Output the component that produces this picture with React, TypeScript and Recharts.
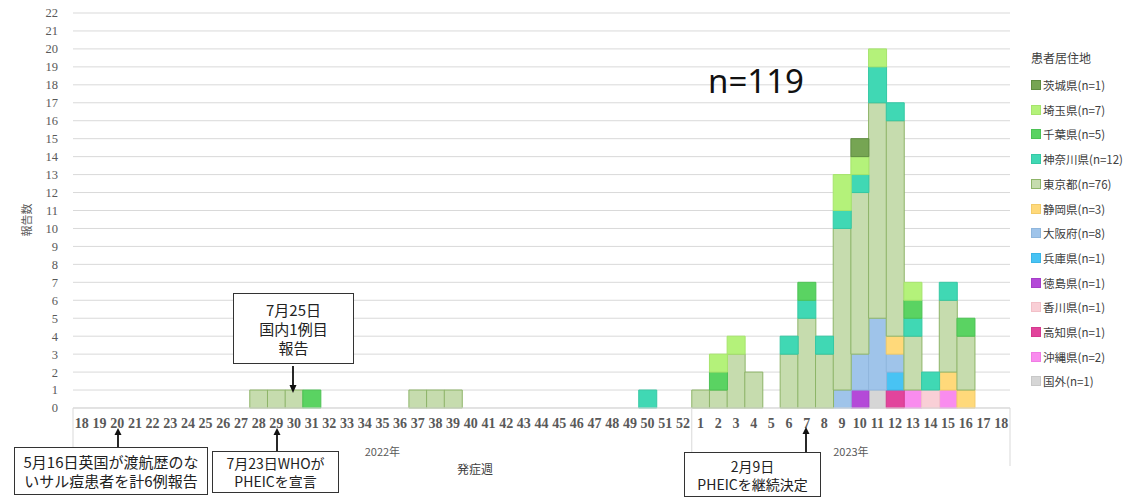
import { Bar, BarChart, CartesianGrid, XAxis, YAxis } from 'recharts';

// 発症週 (2022: week 18–52, 2023: week 1–18)
const weeks2022 = [
  '18', '19', '20', '21', '22', '23', '24', '25', '26', '27', '28', '29', '30', '31', '32', '33', '34', '35',
  '36', '37', '38', '39', '40', '41', '42', '43', '44', '45', '46', '47', '48', '49', '50', '51', '52',
];
const weeks2023 = ['1', '2', '3', '4', '5', '6', '7', '8', '9', '10', '11', '12', '13', '14', '15', '16', '17', '18'];

const yTicks = [0, 1, 2, 3, 4, 5, 6, 7, 8, 9, 10, 11, 12, 13, 14, 15, 16, 17, 18, 19, 20, 21, 22];

// 2022 counts, weeks 18..52
const tokyo2022 = [0, 0, 0, 0, 0, 0, 0, 0, 0, 0, 1, 1, 1, 0, 0, 0, 0, 0, 0, 1, 1, 1, 0, 0, 0, 0, 0, 0, 0, 0, 0, 0, 0, 0, 0];
const chiba2022 = [0, 0, 0, 0, 0, 0, 0, 0, 0, 0, 0, 0, 0, 1, 0, 0, 0, 0, 0, 0, 0, 0, 0, 0, 0, 0, 0, 0, 0, 0, 0, 0, 0, 0, 0];
const kanagawa2022 = [0, 0, 0, 0, 0, 0, 0, 0, 0, 0, 0, 0, 0, 0, 0, 0, 0, 0, 0, 0, 0, 0, 0, 0, 0, 0, 0, 0, 0, 0, 0, 0, 1, 0, 0];
const none2022 = [0, 0, 0, 0, 0, 0, 0, 0, 0, 0, 0, 0, 0, 0, 0, 0, 0, 0, 0, 0, 0, 0, 0, 0, 0, 0, 0, 0, 0, 0, 0, 0, 0, 0, 0];

// 2023 counts, weeks 1..18
const ibaraki2023 = [0, 0, 0, 0, 0, 0, 0, 0, 0, 1, 0, 0, 0, 0, 0, 0, 0, 0];
const saitama2023 = [0, 1, 1, 0, 0, 0, 0, 0, 2, 1, 1, 0, 1, 0, 0, 0, 0, 0];
const chiba2023 = [0, 1, 0, 0, 0, 0, 1, 0, 0, 0, 0, 0, 1, 0, 0, 1, 0, 0];
const kanagawa2023 = [0, 0, 0, 0, 0, 1, 1, 1, 1, 1, 2, 1, 1, 1, 1, 0, 0, 0];
const tokyo2023 = [1, 1, 3, 2, 0, 3, 5, 3, 9, 9, 12, 12, 3, 0, 4, 3, 0, 0];
const shizuoka2023 = [0, 0, 0, 0, 0, 0, 0, 0, 0, 0, 0, 1, 0, 0, 1, 1, 0, 0];
const osaka2023 = [0, 0, 0, 0, 0, 0, 0, 0, 1, 2, 4, 1, 0, 0, 0, 0, 0, 0];
const hyogo2023 = [0, 0, 0, 0, 0, 0, 0, 0, 0, 0, 0, 1, 0, 0, 0, 0, 0, 0];
const tokushima2023 = [0, 0, 0, 0, 0, 0, 0, 0, 0, 1, 0, 0, 0, 0, 0, 0, 0, 0];
const kagawa2023 = [0, 0, 0, 0, 0, 0, 0, 0, 0, 0, 0, 0, 0, 1, 0, 0, 0, 0];
const kochi2023 = [0, 0, 0, 0, 0, 0, 0, 0, 0, 0, 0, 1, 0, 0, 0, 0, 0, 0];
const okinawa2023 = [0, 0, 0, 0, 0, 0, 0, 0, 0, 0, 0, 0, 1, 0, 1, 0, 0, 0];
const abroad2023 = [0, 0, 0, 0, 0, 0, 0, 0, 0, 0, 1, 0, 0, 0, 0, 0, 0, 0];

// stacking order, bottom first
const series = [
  { key: 'abroad', name: '国外(n=1)', color: '#d6d6d6', stroke: '#c8c8c8', v2022: none2022, v2023: abroad2023 },
  { key: 'okinawa', name: '沖縄県(n=2)', color: '#f98cee', stroke: '#f07ce4', v2022: none2022, v2023: okinawa2023 },
  { key: 'kochi', name: '高知県(n=1)', color: '#e2449c', stroke: '#d43a8e', v2022: none2022, v2023: kochi2023 },
  { key: 'kagawa', name: '香川県(n=1)', color: '#f9cfd6', stroke: '#f2c0c8', v2022: none2022, v2023: kagawa2023 },
  { key: 'tokushima', name: '徳島県(n=1)', color: '#b449d8', stroke: '#a53ec8', v2022: none2022, v2023: tokushima2023 },
  { key: 'hyogo', name: '兵庫県(n=1)', color: '#48c3f4', stroke: '#3bb5e6', v2022: none2022, v2023: hyogo2023 },
  { key: 'osaka', name: '大阪府(n=8)', color: '#9fc4ea', stroke: '#8fb6dc', v2022: none2022, v2023: osaka2023 },
  { key: 'shizuoka', name: '静岡県(n=3)', color: '#ffd97a', stroke: '#f2cb6a', v2022: none2022, v2023: shizuoka2023 },
  { key: 'tokyo', name: '東京都(n=76)', color: '#c6dcae', stroke: '#8db468', v2022: tokyo2022, v2023: tokyo2023 },
  { key: 'kanagawa', name: '神奈川県(n=12)', color: '#40d8b4', stroke: '#35c8a4', v2022: kanagawa2022, v2023: kanagawa2023 },
  { key: 'chiba', name: '千葉県(n=5)', color: '#5ad362', stroke: '#4cc254', v2022: chiba2022, v2023: chiba2023 },
  { key: 'saitama', name: '埼玉県(n=7)', color: '#b4f27a', stroke: '#a6e46c', v2022: none2022, v2023: saitama2023 },
  { key: 'ibaraki', name: '茨城県(n=1)', color: '#76a553', stroke: '#5f8c40', v2022: none2022, v2023: ibaraki2023 },
];

const rowKeys = [...weeks2022.map((w) => `2022-${w}`), ...weeks2023.map((w) => `2023-${w}`)];

const rows = rowKeys.map((k, i) => {
  const row: Record<string, string | number> = { week: k };
  series.forEach((s) => {
    row[s.key] = i < weeks2022.length ? s.v2022[i] : s.v2023[i - weeks2022.length];
  });
  return row;
});

const W = 1144;
const H = 497;
const plotLeft = 73;
const plotRight = 1010;
const axisY = 408;
const band = (plotRight - plotLeft) / rowKeys.length;
const gray = '#595959';
const jp = '"Noto Sans CJK JP", "Noto Sans", sans-serif';

function WeekTick(props: any) {
  const { x, y, payload } = props;
  const i = rowKeys.indexOf(payload.value);
  const label = String(payload.value).split('-')[1];
  return (
    <g>
      <text
        x={x}
        y={y}
        dy="0.71em"
        textAnchor="middle"
        fill={gray}
        fontSize={14}
        fontFamily='"Liberation Serif", serif'
        fontWeight={600}
      >
        {label}
      </text>
      {(i === 0 || i === weeks2022.length) && (
        <line x1={x - band / 2} x2={x - band / 2} y1={axisY} y2={466} stroke="#d9d9d9" />
      )}
      {i === rowKeys.length - 1 && (
        <line x1={x + band / 2} x2={x + band / 2} y1={axisY} y2={466} stroke="#d9d9d9" />
      )}
      {i === 17 && (
        <text x={x} y={456} textAnchor="middle" fill={gray} fontSize={11} fontFamily={jp}>
          2022年
        </text>
      )}
      {i === 44 && (
        <text x={x - band / 2} y={456} textAnchor="middle" fill={gray} fontSize={11} fontFamily={jp}>
          2023年
        </text>
      )}
    </g>
  );
}

const boxStyle = (left: number, top: number, width: number, height: number, fontSize: number) => ({
  position: 'absolute' as const,
  left,
  top,
  width,
  height,
  boxSizing: 'border-box' as const,
  border: '1.5px solid #333',
  background: '#fff',
  fontFamily: jp,
  fontSize,
  lineHeight: `${fontSize + 4}px`,
  color: '#222',
  textAlign: 'center' as const,
  display: 'flex',
  flexDirection: 'column' as const,
  justifyContent: 'center',
});

function UpArrow({ x, y1, y2 }: { x: number; y1: number; y2: number }) {
  return (
    <g>
      <line x1={x} x2={x} y1={y1} y2={y2 + 6} stroke="#111" strokeWidth={1.8} />
      <polygon points={`${x - 3.5},${y2 + 7} ${x + 3.5},${y2 + 7} ${x},${y2}`} fill="#111" />
    </g>
  );
}

export default function App() {
  const legendItems = [...series].reverse();
  return (
    <div style={{ position: 'absolute', left: 0, top: 0, width: W, height: H, background: '#fff' }}>
      <BarChart
        width={W}
        height={H}
        data={rows}
        margin={{ top: 13, right: W - plotRight, bottom: H - axisY - 30, left: plotLeft - 60 }}
        barCategoryGap={0}
        barGap={0}
      >
        <CartesianGrid vertical={false} stroke="#d9d9d9" />
        <XAxis
          dataKey="week"
          interval={0}
          tick={<WeekTick />}
          tickLine={false}
          tickMargin={4}
          axisLine={{ stroke: '#d9d9d9' }}
          height={30}
        />
        <YAxis
          width={60}
          domain={[0, 22]}
          ticks={yTicks}
          interval={0}
          axisLine={false}
          tickLine={false}
          tickMargin={9}
          tick={{ fill: gray, fontSize: 12.5, fontFamily: '"Liberation Serif", serif' }}
        />
        {series.map((s) => (
          <Bar
            key={s.key}
            dataKey={s.key}
            name={s.name}
            stackId="a"
            fill={s.color}
            stroke={s.stroke}
            strokeWidth={1}
            isAnimationActive={false}
          />
        ))}
      </BarChart>

      <svg width={W} height={H} style={{ position: 'absolute', left: 0, top: 0, pointerEvents: 'none' }}>
        <text
          x={28}
          y={220}
          transform="rotate(-90 28 220)"
          textAnchor="middle"
          dominantBaseline="middle"
          fill={gray}
          fontSize={11}
          fontFamily={jp}
        >
          報告数
        </text>
        <text x={475} y={474} textAnchor="middle" fill="#404040" fontSize={12} fontFamily={jp}>
          発症週
        </text>
        <text x={708} y={93} fill="#111" fontSize={33} fontFamily='"Noto Sans", sans-serif'>
          n=119
        </text>
        {/* 7月25日 arrow */}
        <line x1={293} x2={293} y1={366} y2={386} stroke="#111" strokeWidth={1.8} />
        <polygon points="289.5,385 296.5,385 293,393" fill="#111" />
        <UpArrow x={118} y1={447} y2={428} />
        <UpArrow x={277} y1={451} y2={428} />
        <UpArrow x={806} y1={452} y2={427} />
      </svg>

      <div style={boxStyle(233, 293, 121, 71, 15)}>
        <div>7月25日</div>
        <div>国内1例目</div>
        <div>報告</div>
      </div>
      <div style={boxStyle(14, 447, 194, 48, 15)}>
        <div>5月16日英国が渡航歴のな</div>
        <div>いサル痘患者を計6例報告</div>
      </div>
      <div style={boxStyle(212, 451, 127, 42, 14)}>
        <div>7月23日WHOが</div>
        <div>PHEICを宣言</div>
      </div>
      <div style={boxStyle(684, 452, 137, 45, 14)}>
        <div>2月9日</div>
        <div>PHEICを継続決定</div>
      </div>

      <div style={{ position: 'absolute', left: 1031, top: 48, fontFamily: jp, color: '#404040' }}>
        <div style={{ fontSize: 12, height: 20, lineHeight: '20px' }}>患者居住地</div>
        {legendItems.map((s, i) => (
          <div
            key={s.key}
            style={{
              position: 'absolute',
              left: 0,
              top: 28 + i * 24.7,
              height: 18,
              display: 'flex',
              alignItems: 'center',
              fontSize: 11.5,
              whiteSpace: 'nowrap',
            }}
          >
            <span
              style={{
                display: 'inline-block',
                width: 8,
                height: 8,
                background: s.color,
                border: `1px solid ${s.stroke}`,
                marginRight: 2,
              }}
            />
            {s.name}
          </div>
        ))}
      </div>
    </div>
  );
}
